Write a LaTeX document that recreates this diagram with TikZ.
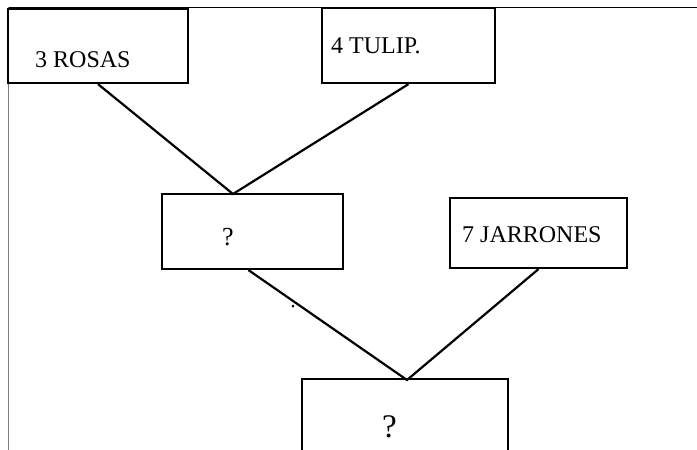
\documentclass[tikz,border=0pt]{standalone}
\usepackage{fontspec}
\setmainfont{Liberation Serif}

\tikzset{
  caja/.style={draw, line width=2.2pt, inner sep=0pt},
  texto/.style={anchor=base west, inner sep=0pt, font=\fontsize{24}{24}\selectfont},
  linea/.style={line width=2.2pt},
}

\begin{document}
\begin{tikzpicture}[x=1pt,y=-1pt]
\useasboundingbox (0,0) rectangle (697,450);

% marco de la hoja
\draw[line width=0.9pt] (8,7) -- (697,7);
\draw[gray, line width=0.9pt] (8,7) -- (8,450);

% cajas
\node[caja, minimum width=180pt, minimum height=74pt] (rosas) at (98,46) {};
\node[caja, minimum width=173pt, minimum height=75pt] (tulip) at (408.5,45.5) {};
\node[caja, minimum width=181pt, minimum height=75pt] (suma) at (252.5,231.5) {};
\node[caja, minimum width=177pt, minimum height=70pt] (jarrones) at (538.5,233) {};
\node[caja, minimum width=206pt, minimum height=102pt] (total) at (405,430) {};

% textos
\node[texto] (trosas) at (35,67) {3 ROSAS};
\node[texto] (ttulip) at (331,53) {4 TULIP.};
\node[texto] (tjarrones) at (462,242) {7 JARRONES};
\node[texto, font=\fontsize{26}{26}\selectfont] (tsuma) at (222,245) {?};
\node[texto, font=\fontsize{33}{33}\selectfont] (ttotal) at (382,437) {?};

\coordinate (union1) at (233,194);
\coordinate (union2) at (407,380);

\draw[linea] (rosas.south) -- (union1) -- (tulip.south);
\draw[linea] ([xshift=-4pt]suma.south) -- (union2) -- (jarrones.south);

\fill (293,306) circle (1.5pt);
\end{tikzpicture}
\end{document}
